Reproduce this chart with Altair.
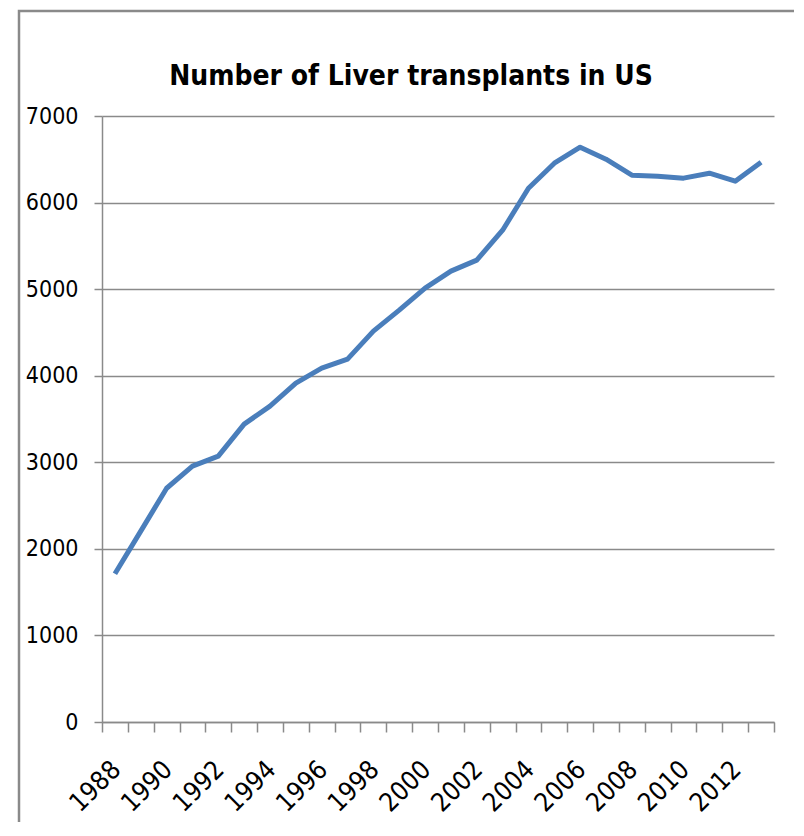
import altair as alt
import pandas as pd

years = list(range(1988, 2014))
transplants = [1713, 2205, 2700, 2956, 3071, 3441, 3649, 3914, 4087, 4192,
               4515, 4757, 5011, 5208, 5335, 5681, 6166, 6455, 6640, 6501,
               6316, 6305, 6282, 6339, 6247, 6466]
y_ticks = [0, 1000, 2000, 3000, 4000, 5000, 6000, 7000]
x_label_years = [1988, 1990, 1992, 1994, 1996, 1998, 2000, 2002, 2004, 2006, 2008, 2010, 2012]

df = pd.DataFrame({"year": years, "count": transplants})
boundaries = [y - 0.5 for y in years] + [years[-1] + 0.5]

FONT = "DejaVu Sans Condensed"
GRAY = "#8a8a8a"

label_expr = ("indexof([" + ",".join(str(v) for v in x_label_years) +
              "], datum.value + 0.5) >= 0 ? format(datum.value + 0.5, 'd') : ''")

line = alt.Chart(df).mark_line(color="#4a7ebb", strokeWidth=5, strokeJoin="round").encode(
    x=alt.X("year:Q",
            scale=alt.Scale(domain=[years[0] - 0.5, years[-1] + 0.5], nice=False, zero=False),
            axis=alt.Axis(values=boundaries, labelExpr=label_expr, grid=False, title=None,
                          labelAngle=-45, labelAlign="right", labelBaseline="middle",
                          labelOffset=14, labelPadding=33, labelFont=FONT, labelFontSize=26,
                          labelColor="#000000", tickColor=GRAY, tickSize=10, tickWidth=1.5,
                          domainColor=GRAY, domainWidth=1.5, labelOverlap=False,
                          labelBound=False)),
    y=alt.Y("count:Q",
            scale=alt.Scale(domain=[0, 7000], nice=False),
            axis=alt.Axis(values=y_ticks, format="d", grid=True, gridColor=GRAY, gridWidth=1.5,
                          title=None, labelFont=FONT, labelFontSize=23, labelColor="#000000",
                          labelPadding=16, tickColor=GRAY, tickSize=8, tickWidth=1.5,
                          domainColor=GRAY, domainWidth=1.5)),
)

frame = alt.Chart(pd.DataFrame({"f": [0]})).mark_rect(
    fillOpacity=0, stroke="#8a8a8a", strokeWidth=2.5
).encode(
    x=alt.value(-83), x2=alt.value(698), y=alt.value(-105), y2=alt.value(740)
)

chart = alt.layer(frame, line).properties(
    width=672,
    height=606,
    padding={"left": 94, "top": 108, "right": 20, "bottom": 100},
    autosize=alt.AutoSizeParams(type="none"),
    title=alt.TitleParams("Number of Liver transplants in US", font=FONT, fontSize=28,
                          fontWeight="bold", color="#000000", anchor="middle", dx=-27,
                          offset=30, dy=111, frame="group"),
).configure_view(stroke=None)

chart.save("out.html", embed_options={"renderer": "svg", "actions": False})
